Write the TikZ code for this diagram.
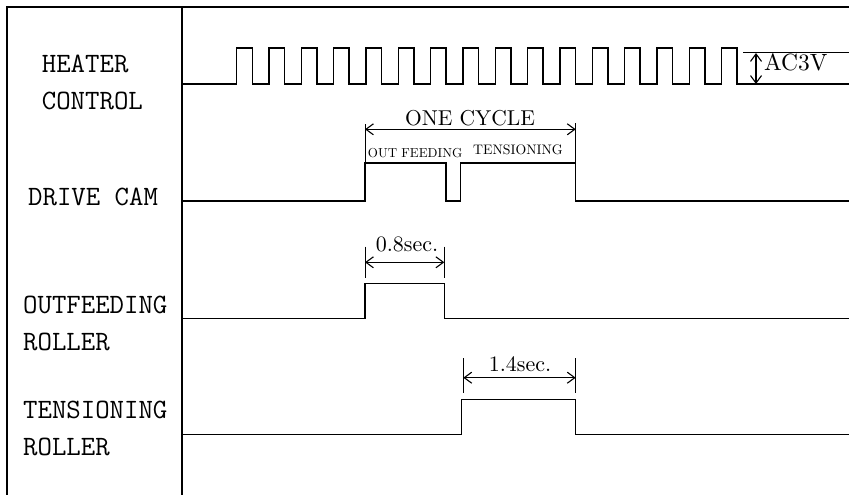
\documentclass[tikz,border=0pt]{standalone}
\usepackage{fontspec}
\setmainfont{lmroman10-regular.otf}
\usepackage{tikz}
\usetikzlibrary{arrows.meta,calc}

\begin{document}
\begin{tikzpicture}[
  x=1pt, y=-1pt,
  frame/.style={line width=1.4pt},
  sig/.style={line width=1.4pt, line join=miter},
  tick/.style={line width=1pt},
  dimarr/.style={<->, >={Straight Barb[length=7.5pt,width=11pt,line width=1.1pt]}, line width=1.2pt},
  lbl/.style={font=\fontsize{28}{36.5}\selectfont\ttfamily, align=left, inner sep=0pt, anchor=west},
  val/.style={font=\fontsize{22}{24}\selectfont, inner sep=0pt},
  sub/.style={font=\fontsize{13}{14}\selectfont, inner sep=0pt, anchor=base west}
]
\useasboundingbox (0,0) rectangle (849,495);

% frame
\draw[frame] (7,495) -- (7,7) -- (849,7);
\draw[frame] (182,7) -- (182,495);

% row labels
\node[lbl] (heater)    at (41.7,82.5) {HEATER\\CONTROL};
\node[lbl] (drivecam)  at (28,197)    {DRIVE CAM};
\node[lbl] (outroller) at (23,323.3)  {OUTFEEDING\\ROLLER};
\node[lbl] (tenroller) at (23,428.3)  {TENSIONING\\ROLLER};

% heater control
\draw[sig] (182,84) foreach \i in {0,...,15} {
    -- ({236.7+32.33*\i},84) -- ({236.7+32.33*\i},48)
    -- ({252.2+32.33*\i},48) -- ({252.2+32.33*\i},84) } -- (849,84);
\draw[tick] (743.3,53) -- (849,53);
\coordinate (ac-t) at (756,53);
\coordinate (ac-b) at (756,84);
\draw[dimarr] (ac-t) -- (ac-b);
\node[val, font=\fontsize{23.5}{25}\selectfont, anchor=base west] (ac3v) at (764,70.7) {AC3V};

% drive cam
\draw[sig] (182,201) -- (365,201) -- (365,163) -- (446,163) -- (446,201)
  -- (460.7,201) -- (460.7,163) -- (575.7,163) -- (575.7,201) -- (849,201);
\coordinate (oc-l) at (365,129.3);
\coordinate (oc-r) at (575.7,129.3);
\draw[tick] (365,124) -- (365,163);
\draw[tick] (575.7,123) -- (575.7,163);
\draw[dimarr] (oc-l) -- (oc-r);
\node[val, font=\fontsize{21.5}{24}\selectfont, anchor=base] (onecycle) at (470,125) {ONE CYCLE};
\node[sub] (outfeed) at (367.7,157.3) {OUT FEEDING};
\node[sub, font=\fontsize{13.8}{15}\selectfont] (tension) at (473,154) {TENSIONING};

% outfeeding roller
\draw[sig] (182,318.3) -- (365,318.3) -- (365,283.3) -- (444.3,283.3)
  -- (444.3,318.3) -- (849,318.3);
\coordinate (of-l) at (365,262.3);
\coordinate (of-r) at (444.3,262.3);
\draw[tick] (365,246.7) -- (365,278.3);
\draw[tick] (444.3,246.7) -- (444.3,278.3);
\draw[dimarr] (of-l) -- (of-r);
\node[val, anchor=base] (t08) at (407,251.7) {0.8sec.};

% tensioning roller
\draw[sig] (182,434.3) -- (461.7,434.3) -- (461.7,399.3) -- (575.7,399.3)
  -- (575.7,434.3) -- (849,434.3);
\coordinate (tr-l) at (463.3,377.7);
\coordinate (tr-r) at (575.7,377.7);
\draw[tick] (463.3,358) -- (463.3,393);
\draw[tick] (575.7,358) -- (575.7,393);
\draw[dimarr] (tr-l) -- (tr-r);
\node[val, anchor=base] (t14) at (520,371.7) {1.4sec.};
\end{tikzpicture}
\end{document}
